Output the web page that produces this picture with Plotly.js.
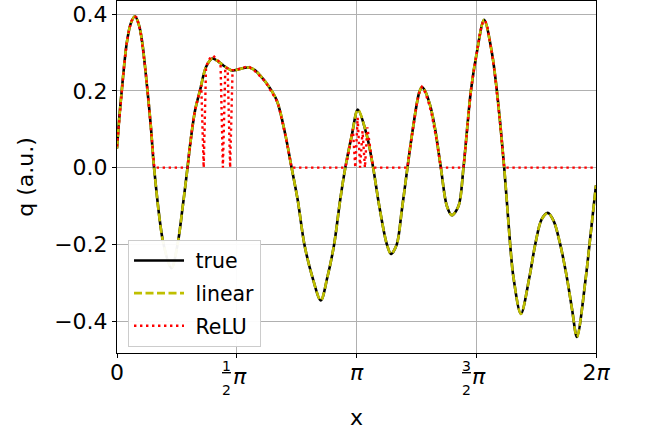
<!DOCTYPE html>
<html>
<head>
<meta charset="utf-8">
<script src="https://cdn.plot.ly/plotly-3.0.1.min.js"></script>
<style>
  html, body { margin: 0; padding: 0; background: #ffffff; }
  #chart { width: 646px; height: 434px; }
</style>
</head>
<body>
<div id="chart"></div>
<script>
// Exact solution q(x) sampled at knots along [0, 2π]
const xTrue = [0.000, 0.030, 0.062, 0.095, 0.127, 0.180, 0.236, 0.290, 0.333, 0.400, 0.445, 0.486,
  0.608, 0.715, 0.797, 0.860, 0.925, 0.958, 1.024, 1.089, 1.168, 1.250, 1.330, 1.395, 1.505, 1.600,
  1.680, 1.745, 1.820, 1.877, 1.964, 2.096, 2.205, 2.290, 2.371, 2.458, 2.563, 2.673, 2.760, 2.848,
  2.927, 2.995, 3.080, 3.159, 3.277, 3.360, 3.440, 3.540, 3.595, 3.670, 3.736, 3.810, 3.880, 3.963,
  4.000, 4.040, 4.110, 4.173, 4.248, 4.327, 4.392, 4.480, 4.545, 4.642, 4.720, 4.816, 4.917, 4.983,
  5.079, 5.157, 5.200, 5.298, 5.410, 5.486, 5.570, 5.652, 5.730, 5.814, 5.900, 5.970, 6.033, 6.150,
  6.198, 6.283];
const qTrue = [0.050, 0.130, 0.200, 0.268, 0.323, 0.375, 0.394, 0.370, 0.323, 0.200, 0.105, 0.000,
  -0.197, -0.262, -0.197, -0.105, 0.000, 0.058, 0.149, 0.201, 0.262, 0.284, 0.276, 0.266, 0.253, 0.256,
  0.260, 0.260, 0.252, 0.240, 0.219, 0.175, 0.089, 0.000, -0.085, -0.200, -0.285, -0.346, -0.285, -0.200,
  -0.085, 0.000, 0.084, 0.151, 0.084, 0.000, -0.100, -0.200, -0.225, -0.200, -0.111, 0.000, 0.100, 0.195,
  0.210, 0.200, 0.160, 0.100, 0.000, -0.100, -0.124, -0.100, 0.000, 0.200, 0.300, 0.385, 0.300, 0.200,
  0.000, -0.200, -0.285, -0.381, -0.285, -0.200, -0.135, -0.118, -0.140, -0.200, -0.285, -0.370, -0.441, -0.285,
  -0.200, -0.046];

// Linear-activation model output
const xLinear = xTrue;
const qLinear = [0.050, 0.130, 0.200, 0.268, 0.323, 0.375, 0.394, 0.370, 0.323, 0.200, 0.105, 0.000,
  -0.197, -0.262, -0.197, -0.105, 0.000, 0.058, 0.149, 0.201, 0.262, 0.284, 0.276, 0.266, 0.253, 0.256,
  0.260, 0.260, 0.252, 0.240, 0.219, 0.175, 0.089, 0.000, -0.085, -0.200, -0.285, -0.346, -0.285, -0.200,
  -0.085, 0.000, 0.084, 0.151, 0.084, 0.000, -0.100, -0.200, -0.225, -0.200, -0.111, 0.000, 0.100, 0.195,
  0.210, 0.200, 0.160, 0.100, 0.000, -0.100, -0.124, -0.100, 0.000, 0.200, 0.300, 0.385, 0.300, 0.200,
  0.000, -0.200, -0.285, -0.381, -0.285, -0.200, -0.135, -0.118, -0.140, -0.200, -0.285, -0.370, -0.441, -0.285,
  -0.200, -0.046];

// ReLU-activation model output (sampled, clipped at zero)
const xRelu = [0.000, 0.030, 0.062, 0.095, 0.127, 0.158, 0.190, 0.221, 0.253, 0.285, 0.316, 0.348,
  0.379, 0.411, 0.442, 0.474, 0.490,
  0.925, 0.958, 0.990, 1.021, 1.053, 1.084, 1.105, 1.137, 1.168, 1.200, 1.231, 1.263, 1.295, 1.326,
  1.358, 1.389, 1.421, 1.452, 1.484, 1.516, 1.547, 1.579, 1.610, 1.642, 1.673, 1.705, 1.737, 1.768,
  1.800, 1.831, 1.863, 1.894, 1.926, 1.957, 1.989, 2.021, 2.052, 2.084, 2.115, 2.147, 2.178, 2.210,
  2.241, 2.273, 2.290,
  2.995, 3.031, 3.063, 3.094, 3.126, 3.157, 3.189, 3.221, 3.252, 3.284, 3.315, 3.347, 3.378,
  3.810, 3.842, 3.873, 3.905, 3.936, 3.968, 4.000, 4.031, 4.063, 4.094, 4.126, 4.157, 4.189, 4.220,
  4.248,
  4.545, 4.576, 4.608, 4.640, 4.671, 4.703, 4.734, 4.766, 4.797, 4.829, 4.860, 4.892, 4.923, 4.955,
  4.986, 5.018, 5.049, 5.079, 6.283];
const qRelu = [0.055, 0.130, 0.200, 0.268, 0.323, 0.358, 0.382, 0.393, 0.392, 0.374, 0.345, 0.300,
  0.245, 0.178, 0.110, 0.035, 0.000,
  0.000, 0.058, 0.110, 0.147, 0.175, 0.198, 0.215, 0.000, 0.262, 0.278, 0.289, 0.291, 0.286, 0.279,
  0.271, 0.000, 0.262, 0.258, 0.000, 0.254, 0.254, 0.256, 0.258, 0.260, 0.262, 0.263, 0.262, 0.258,
  0.253, 0.247, 0.241, 0.235, 0.228, 0.220, 0.210, 0.199, 0.188, 0.178, 0.165, 0.140, 0.110, 0.083,
  0.052, 0.018, 0.000,
  0.000, 0.030, 0.070, 0.100, 0.000, 0.130, 0.000, 0.095, 0.000, 0.105, 0.060, 0.015, 0.000,
  0.000, 0.048, 0.090, 0.130, 0.170, 0.198, 0.210, 0.202, 0.185, 0.165, 0.140, 0.110, 0.075, 0.035,
  0.000,
  0.000, 0.065, 0.130, 0.196, 0.240, 0.282, 0.318, 0.355, 0.378, 0.383, 0.365, 0.330, 0.292, 0.245,
  0.195, 0.130, 0.065, 0.000, 0.000];

// Axis ticks at multiples of π/2
const xTickVals = [0, Math.PI / 2, Math.PI, 3 * Math.PI / 2, 2 * Math.PI];
const xTickText = ['0', '', '<i>π</i>', '', '2<i>π</i>'];
const yTickVals = [-0.4, -0.2, 0.0, 0.2, 0.4];
const seriesNames = ['true', 'linear', 'ReLU'];

const FONT = 'DejaVu Sans, Arial, sans-serif';
const PAD = '\u00a0';

const traces = [
  {
    x: xTrue, y: qTrue, name: PAD + seriesNames[0], legendgroup: 'g1', type: 'scatter', mode: 'lines',
    line: { color: '#000000', width: 2.6, shape: 'spline', smoothing: 0.9 }
  },
  {
    x: xLinear, y: qLinear, name: PAD + seriesNames[1], legendgroup: 'g2', type: 'scatter', mode: 'lines',
    line: { color: '#bfbf00', width: 2.6, dash: '8px,3.5px', shape: 'spline', smoothing: 0.9 }
  },
  {
    x: xRelu, y: qRelu, name: PAD + seriesNames[2], legendgroup: 'g3', type: 'scatter', mode: 'lines',
    line: { color: '#ff0000', width: 2.4, dash: '2.4px,3.6px' }
  }
];

// stacked-fraction labels for the π/2 and 3π/2 ticks
function fracLabel(xv, num) {
  return [
    { x: xv, xref: 'x', y: 0, yref: 'paper', yanchor: 'middle', xanchor: 'center',
      text: "<span style='text-decoration:underline'>" + num + "</span>", showarrow: false,
      xshift: -10, yshift: -12.5, font: { family: FONT, size: 14, color: '#000' } },
    { x: xv, xref: 'x', y: 0, yref: 'paper', yanchor: 'middle', xanchor: 'center',
      text: '2', showarrow: false,
      xshift: -10, yshift: -37, font: { family: FONT, size: 14, color: '#000' } },
    { x: xv, xref: 'x', y: 0, yref: 'paper', yanchor: 'middle', xanchor: 'center',
      text: '<i>π</i>', showarrow: false,
      xshift: 3, yshift: -23.5, font: { family: FONT, size: 22, color: '#000' } }
  ];
}

const layout = {
  width: 646, height: 434,
  margin: { l: 117, r: 50, t: 1, b: 81 },
  paper_bgcolor: '#ffffff', plot_bgcolor: '#ffffff',
  font: { family: FONT, size: 22, color: '#000000' },
  showlegend: true,
  legend: {
    x: 0.023, y: 0.322, xanchor: 'left', yanchor: 'top',
    bgcolor: 'rgba(255,255,255,0.95)', bordercolor: '#cccccc', borderwidth: 1,
    font: { family: FONT, size: 20.5, color: '#000' },
    itemwidth: 50, tracegroupgap: 3
  },
  xaxis: {
    range: [0, 2 * Math.PI], tickmode: 'array', tickvals: xTickVals, ticktext: xTickText,
    showgrid: true, gridcolor: '#b0b0b0', gridwidth: 1,
    showline: true, linecolor: '#000000', linewidth: 1, mirror: true,
    ticks: 'outside', ticklen: 4, tickcolor: '#000', tickwidth: 1,
    ticklabelstandoff: -4,
    zeroline: false,
    title: { text: 'x', font: { family: FONT, size: 22 }, standoff: 25 },
    tickfont: { family: FONT, size: 22 }
  },
  yaxis: {
    range: [-0.4828, 0.4339], tickmode: 'array', tickvals: yTickVals, tickformat: '.1f',
    showgrid: true, gridcolor: '#b0b0b0', gridwidth: 1,
    showline: true, linecolor: '#000000', linewidth: 1, mirror: true,
    ticks: 'outside', ticklen: 4, tickcolor: '#000', tickwidth: 1,
    zeroline: false,
    title: { text: 'q (a.u.)', font: { family: FONT, size: 22 }, standoff: 14 },
    tickfont: { family: FONT, size: 22 }
  },
  annotations: [].concat(fracLabel(Math.PI / 2, '1'), fracLabel(3 * Math.PI / 2, '3'))
};

Plotly.newPlot('chart', traces, layout, { staticPlot: true, displayModeBar: false });
</script>
</body>
</html>
